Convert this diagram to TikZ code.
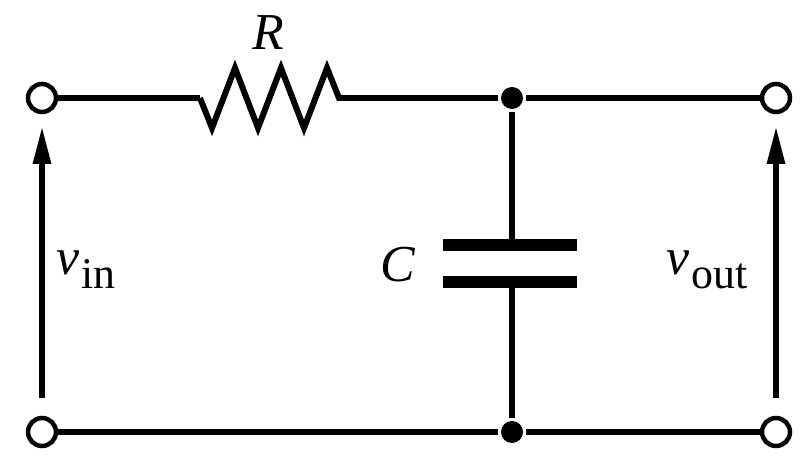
\documentclass[tikz,border=0pt]{standalone}
\usepackage{fontspec}
\setmainfont{Liberation Serif}
\usetikzlibrary{arrows.meta}
\begin{document}
\begin{tikzpicture}[x=1bp,y=-1bp,line width=6bp,
  term/.style={circle,draw,fill=white,line width=4.5bp,minimum size=28bp,inner sep=0},
  dot/.style={circle,fill=black,minimum size=22bp,inner sep=0},
  lbl/.style={font=\fontsize{52}{56}\selectfont},
  arr/.style={-{Triangle[length=38bp,width=17bp]},line width=6bp}]
\useasboundingbox (0,0) rectangle (808,476);
\coordinate (r1) at (200,98); \coordinate (r2) at (345,98);
\coordinate (c1) at (512,245); \coordinate (c2) at (512,282);
\node[dot] (jt) at (512,98) {};
\node[dot] (jb) at (512,432) {};
\draw (42,98) -- (r1);
\draw[line join=miter] (r1) -- (212,128) -- (235,68) -- (258,128) -- (281,68) -- (304,128) -- (327,68) -- (339,98) -- (r2);
\draw (r2) -- (jt) -- (776,98);
\draw (42,432) -- (jb) -- (776,432);
\draw (jt) -- (c1);
\draw (c2) -- (jb);
\draw[line width=12bp] (443,245) -- (577,245);
\draw[line width=12bp] (443,282) -- (577,282);
\node[term] (a) at (42,98) {};
\node[term] (b) at (42,432) {};
\node[term] (c) at (776,98) {};
\node[term] (d) at (776,432) {};
\coordinate (as) at (42,398); \coordinate (ae) at (42,126);
\coordinate (bs) at (776,398); \coordinate (be) at (776,126);
\draw[arr] (as) -- (ae);
\draw[arr] (bs) -- (be);
\node[lbl] (R) at (268,33) {\textit{R}};
\node[lbl] (C) at (398,265) {\textit{C}};
\node[lbl,anchor=west] (vi) at (50,270) {\textit{v}\kern2bp\raisebox{-14bp}{\fontsize{44}{48}\selectfont in}};
\node[lbl,anchor=west] (vo) at (660,270) {\textit{v}\kern2bp\raisebox{-14bp}{\fontsize{44}{48}\selectfont out}};
\end{tikzpicture}
\end{document}
